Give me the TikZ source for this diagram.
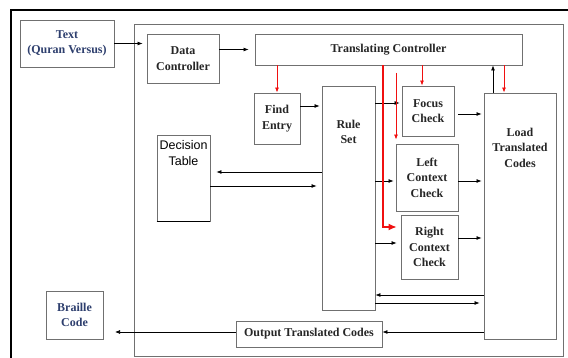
\documentclass[tikz,border=0pt]{standalone}
\usepackage{fontspec}
\setmainfont{Liberation Serif}
\setsansfont{Liberation Sans}
\usetikzlibrary{arrows.meta}
\definecolor{boxgray}{HTML}{707070}
\definecolor{txtdark}{HTML}{262626}
\definecolor{navy}{HTML}{2E3F6E}
\definecolor{redarr}{HTML}{F01010}
\tikzset{
  box/.style={draw=boxgray, line width=0.9pt, inner sep=0pt, align=center,
    font=\fontsize{12}{15.5}\selectfont\bfseries, text=txtdark},
  lbl/.style={inner sep=0pt, align=center,
    font=\fontsize{12}{15.5}\selectfont\bfseries, text=txtdark},
  arr/.style={draw=black, line width=0.7pt, -{Latex[length=5pt,width=4pt]}},
  redar/.style={draw=redarr, line width=0.8pt, -{Latex[length=5pt,width=4pt]}},
  redbig/.style={draw=redarr, line width=1.2pt, -{Latex[length=8pt,width=7pt]}},
}
\begin{document}
\begin{tikzpicture}[x=1pt,y=-1pt]
\useasboundingbox (0,0) rectangle (568,358);
\fill[white] (0,0) rectangle (568,358);
% outer frame (cropped at right and bottom)
\draw[line width=1.8pt, black] (11,370) -- (11,10) -- (580,10);
% inner frame
\node[draw=boxgray, line width=0.9pt, inner sep=0pt, minimum width=429pt, minimum height=332pt] (inner) at (348.5,190) {};
% boxes
\node[box, text=navy, minimum width=94pt, minimum height=47pt] (text) at (67,43.5) {Text\\(Quran Versus)};
\node[box, minimum width=72pt, minimum height=49pt] (data) at (183,58.5) {Data\\Controller};
\node[box, minimum width=267pt, minimum height=31pt] (tc) at (388.5,49.5) {Translating Controller};
\node[box, minimum width=46pt, minimum height=51pt] (find) at (277,118.5) {Find\\Entry};
\node[box, minimum width=53pt, minimum height=224pt,
  label={[lbl, anchor=north, yshift=-34pt]north:{Rule\\Set}}] (rule) at (348.5,198) {};
\node[box, minimum width=53pt, minimum height=86pt,
  label={[inner sep=0pt, align=center, anchor=north, yshift=-6pt, text=black,
    font=\sffamily\fontsize{12.5}{16}\selectfont]north:{Decision\\Table}}] (dec) at (183.5,178) {};
\draw[black, line width=1.1pt] (dec.south west) -- (dec.south east);
\node[box, minimum width=52pt, minimum height=50pt] (focus) at (428,111) {Focus\\Check};
\node[box, minimum width=62pt, minimum height=67pt] (left) at (427,177.5) {Left\\Context\\Check};
\node[box, minimum width=57pt, minimum height=64pt] (right) at (429.5,247) {Right\\Context\\Check};
\node[box, minimum width=72pt, minimum height=246pt,
  label={[lbl, anchor=north, yshift=-35pt]north:{Load\\Translated\\Codes}}] (load) at (520,216) {};
\node[box, minimum width=146pt, minimum height=26pt] (out) at (309,334) {Output Translated Codes};
\node[box, text=navy, minimum width=57pt, minimum height=48pt] (braille) at (74.5,315) {Braille\\Code};
% coordinates for free ends
\coordinate (r1) at (396,73);
\coordinate (rx) at (383,227);
\coordinate (bend) at (115,332);
% black arrows
\draw[arr, shorten >=4pt] (text.east) -- (text.east -| data.west);
\draw[arr, shorten >=6pt] (data.east |- tc.west) -- (tc.west);
\draw[arr, shorten >=2pt] (find.east |- 0,106) -- (rule.west |- 0,106);
\draw[arr, shorten >=6pt] (rule.west |- 0,172) -- (dec.east |- 0,172);
\draw[arr, shorten >=5pt] (dec.east |- 0,186) -- (rule.west |- 0,186);
\draw[arr, shorten >=2pt] (rule.east |- 0,103) -- (focus.west |- 0,103);
\draw[arr, shorten >=2pt] (rule.east |- 0,181) -- (left.west |- 0,181);
\draw[arr, shorten >=4pt] (rule.east |- 0,243) -- (right.west |- 0,243);
\draw[arr, shorten <=4pt, shorten >=2pt] (focus.east |- 0,114) -- (load.west |- 0,114);
\draw[arr, shorten >=2pt] (left.east |- 0,181) -- (load.west |- 0,181);
\draw[arr, shorten >=2pt] (right.east |- 0,238) -- (load.west |- 0,238);
\draw[arr] ([xshift=-27pt]load.north) -- ([xshift=-27pt]load.north |- tc.south);
\draw[arr, shorten >=0pt] (load.west |- 0,295) -- (rule.east |- 0,295);
\draw[arr, shorten >=4pt] (rule.east |- 0,303) -- (load.west |- 0,303);
\draw[arr] (load.west |- 0,332) -- (out.east |- 0,332);
\draw[arr] (out.west |- bend) -- (bend);
% red arrows
\draw[redar] (find.north |- tc.south) -- (find.north);
\draw[redar] ([xshift=-6pt]focus.north |- tc.south) -- ([xshift=-6pt]focus.north);
\draw[redar] ([xshift=-16pt]load.north |- tc.south) -- ([xshift=-16pt]load.north);
\draw[redar, shorten >=4pt] (r1) -- (r1 |- left.north);
\draw[redbig, shorten >=4pt] (rx |- tc.south) -- (rx) -- (rx -| right.west);
\end{tikzpicture}
\end{document}
